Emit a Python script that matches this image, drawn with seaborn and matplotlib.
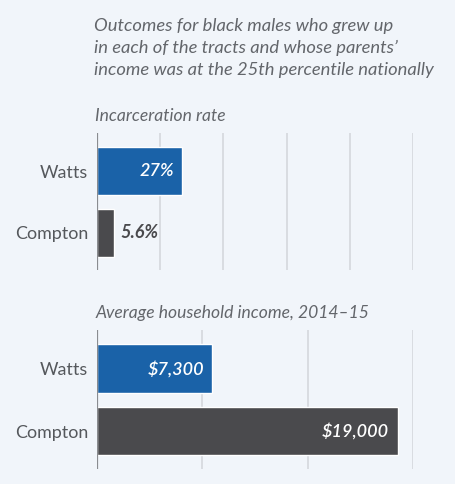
import matplotlib
matplotlib.use("Agg")
import matplotlib.pyplot as plt
import seaborn as sns
import pandas as pd

# Data
places = ["Watts", "Compton"]
incarceration = [27, 5.6]
incarceration_labels = ["27%", "5.6%"]
income = [7300, 19000]
income_labels = ["$7,300", "$19,000"]

bg = "#F1F5FA"
colors = ["#1A62A8", "#4A4A4D"]
sns.set_style("white")
plt.rcParams["font.family"] = ["Lato", "DejaVu Sans"]

fig = plt.figure(figsize=(4.55, 4.84), dpi=100, facecolor=bg)

fig.text(0.206, 0.962, "Outcomes for black males who grew up\n"
         "in each of the tracts and whose parents\u2019\n"
         "income was at the 25th percentile nationally",
         ha="left", va="top", fontsize=13.2, style="italic", color="#63666b",
         linespacing=1.44)


def panel(rect, values, labels, xmax, ticks, title, outside):
    ax = fig.add_axes(rect)
    ax.set_facecolor(bg)
    df = pd.DataFrame({"place": places, "value": values})
    sns.barplot(data=df, y="place", x="value", hue="place", palette=colors,
                width=0.78, legend=False, ax=ax, saturation=1)
    ax.set_xlim(0, xmax)
    ax.set_ylim(1.6, -0.62)
    ax.set_xticks(ticks)
    ax.grid(axis="x", color="#d5d8dc", linewidth=1.2)
    ax.set_axisbelow(True)
    ax.axvline(0, color="#8a8c90", linewidth=1.6, zorder=3)
    for s in ax.spines.values():
        s.set_visible(False)
    ax.tick_params(axis="x", length=0, labelbottom=False)
    ax.tick_params(axis="y", length=0, pad=6, labelsize=12.9, labelcolor="#55585c")
    ax.set_xlabel("")
    ax.set_ylabel("")
    ax.set_title(title, loc="left", fontsize=12.6, style="italic",
                 color="#63666b", pad=8.5, x=-0.005)
    for i, (v, lab) in enumerate(zip(values, labels)):
        if i in outside:
            ax.annotate(lab, (v, i), xytext=(4, 0), textcoords="offset points",
                        ha="left", va="center", fontsize=13, style="italic",
                        fontweight="bold", color="#4A4A4D")
        else:
            ax.annotate(lab, (v, i), xytext=(-6, 0), textcoords="offset points",
                        ha="right", va="center", fontsize=13, style="italic",
                        fontweight="semibold", color="white")
    return ax


panel([0.2125, 0.442, 0.696, 0.284], incarceration, incarceration_labels,
      100, [0, 20, 40, 60, 80, 100], "Incarceration rate", outside=[1])
panel([0.2125, 0.032, 0.696, 0.286], income, income_labels,
      20000, [0, 20000 / 3, 40000 / 3, 20000], "Average household income, 2014\u201315",
      outside=[])

fig.savefig("out.png", dpi=100, facecolor=bg)
